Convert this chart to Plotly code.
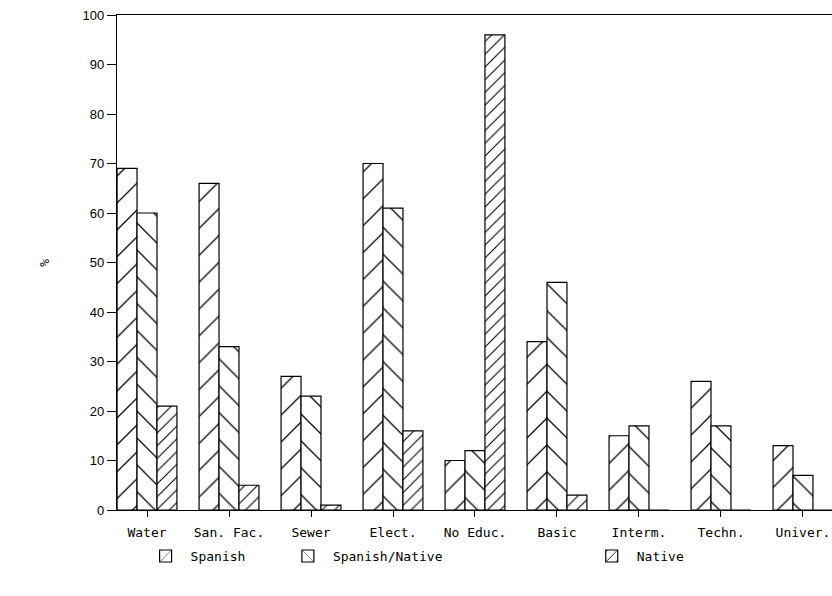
import plotly.graph_objects as go

categories = ["Water", "San. Fac.", "Sewer", "Elect.", "No Educ.", "Basic", "Interm.", "Techn.", "Univer."]
spanish = [69, 66, 27, 70, 10, 34, 15, 26, 13]
spanish_native = [60, 33, 23, 61, 12, 46, 17, 17, 7]
native = [21, 5, 1, 16, 96, 3, 0, 0, 0]
y_ticks = list(range(0, 101, 10))

mono = "DejaVu Sans Mono"

def bar(name, vals, shape, size, sol, legend):
    return go.Bar(
        name=name, x=categories, y=vals, legend=legend, showlegend=True,
        marker=dict(color="white", line=dict(color="black", width=1.2),
                    pattern=dict(shape=shape, size=size, solidity=sol,
                                 fgcolor="black", bgcolor="white", fgopacity=1)),
    )

fig = go.Figure()
fig.add_trace(bar("Spanish", spanish, "/", 19, 0.065, "legend"))
fig.add_trace(bar("Spanish/Native", spanish_native, "\\", 19, 0.065, "legend2"))
fig.add_trace(bar("Native", native, "/", 9, 0.12, "legend3"))

leg_common = dict(orientation="h", yanchor="middle", xanchor="left",
                  font=dict(family=mono, size=13, color="black"),
                  bgcolor="rgba(0,0,0,0)", itemwidth=40, visible=True)
fig.update_layout(
    width=832, height=596,
    margin=dict(l=117, r=0, t=15, b=86),
    paper_bgcolor="white", plot_bgcolor="white",
    showlegend=True,
    barmode="group", bargap=0.27, bargroupgap=0,
    legend=dict(x=0.033, y=-0.093, **leg_common),
    legend2=dict(x=0.232, y=-0.093, **leg_common),
    legend3=dict(x=0.657, y=-0.093, **leg_common),
    xaxis=dict(range=[-0.366, 8.354], showline=True, linecolor="black", linewidth=1.2,
               mirror=True, ticks="outside", ticklen=6, tickcolor="black",
               ticklabelstandoff=4,
               tickfont=dict(family=mono, size=13, color="black"), showgrid=False),
    yaxis=dict(range=[0, 100], tickvals=y_ticks, showline=True, linecolor="black",
               linewidth=1.2, ticks="outside", ticklen=9, tickcolor="black",
               tickfont=dict(family="Liberation Sans", size=13, color="black"),
               showgrid=False, zeroline=False),
    annotations=[dict(text="%", x=-0.115, y=0.5, xref="paper", yref="paper",
                      showarrow=False, textangle=-90,
                      font=dict(family=mono, size=13, color="black"))],
)

fig.write_html("out.html", config={"displayModeBar": False},
               post_script="document.body.style.margin='0';document.body.style.overflow='hidden';")
